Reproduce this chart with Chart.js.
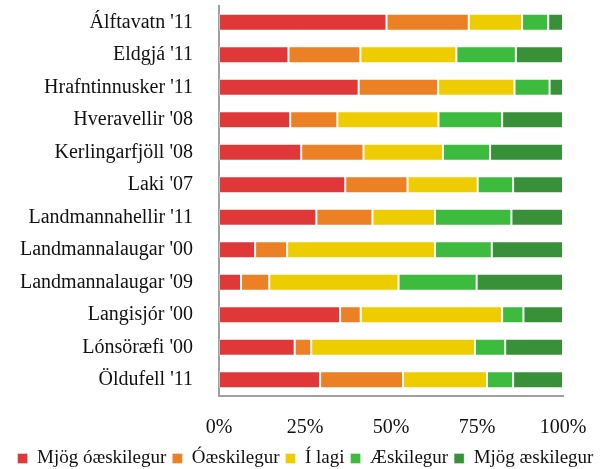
<!DOCTYPE html>
<html>
<head>
<meta charset="utf-8">
<script src="https://cdn.jsdelivr.net/npm/chart.js@4/dist/chart.umd.min.js"></script>
<style>
html,body{margin:0;padding:0;background:#fff;}
#wrap{width:611px;height:469px;}
</style>
</head>
<body>
<div id="wrap"><canvas id="c" width="611" height="469"></canvas></div>
<script>
const categories = ["Álftavatn '11","Eldgjá '11","Hrafntinnusker '11","Hveravellir '08","Kerlingarfjöll '08","Laki '07","Landmannahellir '11","Landmannalaugar '00","Landmannalaugar '09","Langisjór '00","Lónsöræfi '00","Öldufell '11"];
const seriesNames = ["Mjög óæskilegur","Óæskilegur","Í lagi","Æskilegur","Mjög æskilegur"];
const mjogOaeskilegur = [48.7,20.2,40.6,20.7,23.9,36.7,28.3,10.5,6.4,35.2,22.0,29.4];
const oaeskilegur     = [23.9,20.9,23.1,13.7,18.1,18.1,16.3,9.3,8.2,6.0,4.8,24.1];
const ilagi           = [15.5,27.9,22.2,29.4,23.1,20.4,18.2,43.0,37.6,41.1,47.6,24.4];
const aeskilegur      = [7.6,17.3,10.2,18.5,13.7,10.3,22.2,16.5,22.7,6.2,8.8,7.6];
const mjogAeskilegur  = [4.3,13.7,3.9,17.7,21.2,14.5,15.0,20.7,25.1,11.5,16.8,14.5];
const tickValues = [0,25,50,75,100];
const colors = ["#E03838","#EB8024","#EECD00","#3DBB3E","#389139"];
const seriesData = [mjogOaeskilegur,oaeskilegur,ilagi,aeskilegur,mjogAeskilegur];

const FONT = "'Liberation Serif', 'Times New Roman', serif";
const datasets = seriesNames.map((n,i)=>({
  label:n,
  data:seriesData[i],
  backgroundColor:colors[i],
  borderColor:'rgba(255,255,255,0.35)',
  borderWidth:1,
  borderSkipped:false,
  barPercentage:0.53,
  categoryPercentage:1.0
}));

new Chart(document.getElementById('c'),{
  type:'bar',
  data:{labels:categories,datasets},
  options:{
    indexAxis:'y',
    responsive:false,
    animation:false,
    layout:{padding:{top:6,right:0,bottom:-9,left:0}},
    plugins:{
      tooltip:{enabled:false},
      legend:{
        position:'bottom',
        labels:{
          boxWidth:10,boxHeight:10,padding:6,
          color:'#111111',
          font:{family:FONT,size:19}
        }
      }
    },
    scales:{
      x:{
        stacked:true,min:0,max:100,
        afterBuildTicks:(s)=>{s.ticks=tickValues.map(v=>({value:v}));},
        afterFit:(s)=>{s.height=47;},
        grid:{display:false},
        border:{display:true,color:'#a0a0a0',width:2},
        ticks:{
          padding:12,color:'#111111',
          font:{family:FONT,size:20},
          callback:(v)=>v+'%'
        }
      },
      y:{
        stacked:true,
        grid:{display:false},
        border:{display:true,color:'#a0a0a0',width:2},
        afterFit:(s)=>{s.width=219;s.paddingTop=0;s.paddingBottom=0;},
        ticks:{
          autoSkip:false,
          padding:18,color:'#111111',
          font:{family:FONT,size:20}
        }
      },
      yRight:{
        type:'linear',
        position:'right',
        display:true,
        grid:{display:false},
        border:{display:false},
        ticks:{display:false},
        afterFit:(s)=>{s.width=48;s.paddingTop=0;s.paddingBottom=0;}
      }
    }
  }
});
</script>
</body>
</html>
